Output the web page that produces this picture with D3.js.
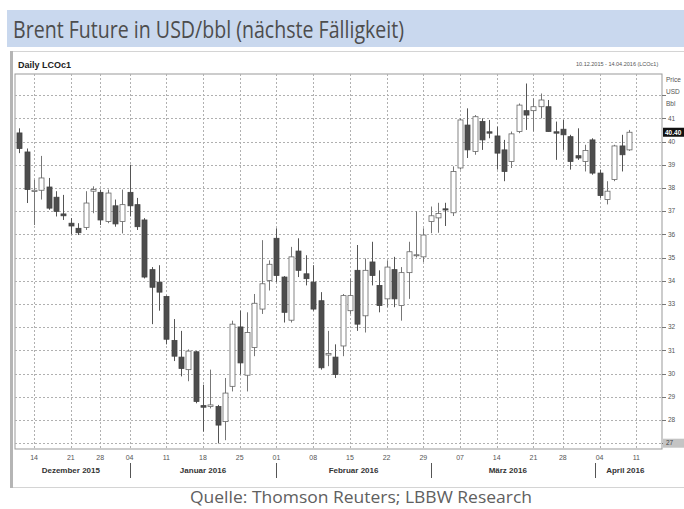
<!DOCTYPE html>
<html>
<head>
<meta charset="utf-8">
<script src="https://cdn.jsdelivr.net/npm/d3@7"></script>
<style>
  body { margin: 0; background: #fff; }
  svg { display: block; font-family: "Liberation Sans", Arial, sans-serif; }
</style>
</head>
<body>
<svg id="chart" width="684" height="509"></svg>
<script>
// Daily candles for LCOc1, one entry per trading day (10.12.2015 - 08.04.2016)
const opens = [
  40.37, 39.55, 37.85, 37.9, 38.04, 37.6, 36.88, 36.48, 36.26, 36.3,
  37.86, 37.81, 36.55, 37.23, 36.55, 37.81, 37.28, 36.62, 34.48, 33.94,
  33.32, 31.43, 30.71, 30.17, 30.94, 28.62, 28.58, 28.58, 27.93, 29.45,
  32.01, 29.93, 31.12, 32.78, 34.01, 35.83, 34.16, 32.3, 35.28, 34.3,
  33.94, 33.14, 30.8, 30.71, 31.19, 32.71, 34.45, 32.49, 34.81, 33.8,
  33.22, 34.48, 32.93, 34.35, 35.08, 35.03, 36.55, 36.71, 37.1, 36.93,
  38.86, 40.71, 39.57, 40.86, 40.42, 40.24, 39.64, 39.14, 40.43, 41.33,
  41.33, 41.5, 41.5, 40.42, 40.53, 40.21, 39.39, 39.14, 40.07, 38.64,
  37.5, 38.36, 39.81, 39.64
];
const highs = [
  40.57, 39.7, 38.35, 39.38, 38.43, 37.86, 37.7, 36.7, 36.48, 37.86,
  38.07, 37.93, 37.93, 37.5, 37.93, 39.0, 37.57, 36.7, 34.59, 34.67,
  33.36, 32.35, 31.84, 31.04, 30.97, 29.52, 30.17, 28.65, 29.81, 32.28,
  32.71, 32.64, 33.43, 35.75, 34.88, 36.26, 34.2, 35.46, 35.83, 35.1,
  34.67, 33.51, 31.84, 31.26, 33.43, 34.09, 35.54, 34.96, 35.68, 34.45,
  34.88, 35.03, 34.59, 35.68, 37.0, 36.26, 37.2, 37.36, 37.36, 38.93,
  41.0, 41.43, 41.14, 41.0, 40.93, 40.64, 40.07, 40.43, 41.64, 42.5,
  41.86, 42.07, 41.79, 40.86, 40.93, 40.29, 40.57, 39.86, 40.14, 38.79,
  38.29, 39.86, 40.29, 40.5
];
const lows = [
  39.5, 37.35, 36.4, 37.5, 37.06, 36.77, 36.62, 36.0, 35.97, 36.19,
  36.91, 36.4, 36.48, 36.33, 36.04, 36.77, 36.19, 34.1, 32.13, 32.71,
  31.26, 30.54, 29.88, 29.67, 28.72, 27.5, 28.5, 26.99, 27.13, 29.23,
  29.96, 29.23, 30.75, 32.57, 33.58, 33.94, 32.2, 32.2, 34.16, 33.8,
  32.71, 30.17, 30.32, 29.81, 30.75, 32.57, 31.84, 31.77, 33.8, 32.64,
  32.86, 32.86, 32.28, 33.22, 35.0, 34.81, 36.05, 36.07, 36.36, 36.79,
  38.79, 39.29, 39.43, 39.64, 40.14, 38.79, 38.29, 38.86, 40.36, 40.5,
  40.43, 41.0, 40.43, 39.21, 39.64, 38.79, 39.21, 38.71, 38.57, 37.57,
  37.29, 38.29, 38.71, 39.6
];
const closes = [
  39.7, 37.93, 37.9, 38.43, 37.13, 36.99, 36.8, 36.36, 36.07, 37.35,
  37.93, 36.62, 37.78, 36.45, 37.28, 37.23, 36.33, 34.16, 33.72, 33.51,
  31.48, 30.75, 30.22, 30.97, 28.8, 28.55, 28.65, 27.78, 29.16, 32.13,
  30.46, 31.77, 33.03, 33.87, 34.71, 34.23, 32.64, 35.03, 34.45, 34.09,
  32.78, 30.25, 30.87, 29.96, 33.36, 33.36, 32.13, 34.45, 34.23, 32.93,
  34.59, 33.22, 34.35, 35.25, 35.12, 35.97, 36.8, 36.9, 37.05, 38.71,
  40.93, 39.64, 41.07, 40.07, 40.36, 39.5, 38.71, 40.33, 41.57, 41.14,
  41.5, 41.79, 40.43, 40.36, 40.29, 39.14, 39.29, 39.61, 38.64, 37.67,
  37.86, 39.81, 39.43, 40.4
];

// Day labels on the time axis and the trading-day index they sit on
const dayLabels = ["14", "21", "28", "04", "11", "18", "25", "01", "08", "15", "22", "29", "07", "14", "21", "28", "04", "11"];
const dayIndex = [2, 7, 11, 15, 20, 25, 30, 35, 40, 45, 50, 55, 60, 65, 70, 74, 79, 84];

// Month labels, their centre index and the index where each new month starts
const monthLabels = ["Dezember 2015", "Januar 2016", "Februar 2016", "März 2016", "April 2016"];
const monthCenter = [7, 25, 45.5, 66.5, 82.5];
const monthStart = [15, 35, 56, 78.4];

// Price ticks on the right axis
const priceTicks = [28, 29, 30, 31, 32, 33, 34, 35, 36, 37, 38, 39, 40, 41];
const gridTicks = [27, 28, 29, 30, 31, 32, 33, 34, 35, 36, 37, 38, 39, 40, 41, 42];

const svg = d3.select("#chart");

// Plot area
const plotLeft = 15, plotRight = 662, plotTop = 74, plotBottom = 449;

const x = d3.scaleLinear().domain([-0.6, 87.5]).range([plotLeft, plotRight]);
const y = d3.scaleLinear().domain([26.75, 42.91]).range([plotBottom, plotTop]);

// Title bar
svg.append("rect")
  .attr("x", 7).attr("y", 10).attr("width", 677).attr("height", 37)
  .attr("fill", "#c9d8ee");
svg.append("text")
  .attr("x", 13).attr("y", 38)
  .attr("font-family", "'Open Sans', 'DejaVu Sans', sans-serif")
  .attr("font-size", 23)
  .attr("fill", "#4d4d4d")
  .attr("textLength", 391)
  .attr("lengthAdjust", "spacingAndGlyphs")
  .text("Brent Future in USD/bbl (nächste Fälligkeit)");

// Chart panel with the thick grey line on the left
svg.append("rect")
  .attr("x", 10.5).attr("y", 51.5).attr("width", 680).attr("height", 436)
  .attr("fill", "#fff").attr("stroke", "#d4d4d4");
svg.append("rect")
  .attr("x", 10).attr("y", 51).attr("width", 3).attr("height", 437)
  .attr("fill", "#b5b5b5");

svg.append("text")
  .attr("x", 18).attr("y", 68)
  .attr("font-size", 9).attr("font-weight", "bold").attr("fill", "#222")
  .text("Daily LCOc1");
svg.append("text")
  .attr("x", 576).attr("y", 66)
  .attr("font-size", 5.5).attr("fill", "#555")
  .text("10.12.2015 - 14.04.2016 (LCOc1)");

// Plot background and frame
svg.append("rect")
  .attr("x", plotLeft).attr("y", plotTop)
  .attr("width", plotRight - plotLeft).attr("height", plotBottom - plotTop)
  .attr("fill", "#fff").attr("stroke", "#999");

// Dotted grid lines
const grid = svg.append("g").attr("stroke", "#b0b0b0").attr("stroke-dasharray", "2,2");
grid.selectAll("line.h")
  .data(gridTicks)
  .join("line")
  .attr("class", "h")
  .attr("x1", plotLeft).attr("x2", plotRight)
  .attr("y1", d => Math.round(y(d)) + 0.5).attr("y2", d => Math.round(y(d)) + 0.5);
grid.selectAll("line.v")
  .data(dayIndex)
  .join("line")
  .attr("class", "v")
  .attr("y1", plotTop).attr("y2", plotBottom)
  .attr("x1", d => Math.round(x(d)) + 0.5).attr("x2", d => Math.round(x(d)) + 0.5);

// Candles
const candles = svg.append("g");
const bodyWidth = 5;
opens.forEach((o, i) => {
  const c = closes[i];
  const up = c >= o;
  const cx = Math.round(x(i)) + 0.5;
  candles.append("line")
    .attr("x1", cx).attr("x2", cx)
    .attr("y1", y(highs[i])).attr("y2", y(lows[i]))
    .attr("stroke", up ? "#777" : "#555");
  const y1 = y(Math.max(o, c));
  const h = Math.max(1, y(Math.min(o, c)) - y1);
  candles.append("rect")
    .attr("x", cx - bodyWidth / 2).attr("y", y1)
    .attr("width", bodyWidth).attr("height", h)
    .attr("fill", up ? "#fff" : "#4d4d4d")
    .attr("stroke", up ? "#666" : "#444")
    .attr("stroke-width", 0.8);
});

// Right price axis
const yAxis = svg.append("g").attr("font-size", 6.5).attr("fill", "#555");
yAxis.selectAll("line")
  .data(gridTicks)
  .join("line")
  .attr("x1", plotRight).attr("x2", plotRight + 4)
  .attr("y1", d => Math.round(y(d)) + 0.5).attr("y2", d => Math.round(y(d)) + 0.5)
  .attr("stroke", "#777");
yAxis.selectAll("text")
  .data(priceTicks)
  .join("text")
  .attr("x", plotRight + 6).attr("y", d => y(d) + 2.3)
  .text(d => d);

["Price", "USD", "Bbl"].forEach((t, i) => {
  svg.append("text")
    .attr("x", 666).attr("y", 82 + i * 12)
    .attr("font-size", 6.5).attr("fill", "#555")
    .text(t);
});

// Last price marker
const last = closes[closes.length - 1];
svg.append("rect")
  .attr("x", 663).attr("y", y(last) - 4.5).attr("width", 21).attr("height", 9)
  .attr("fill", "#111");
svg.append("text")
  .attr("x", 665).attr("y", y(last) + 2.3)
  .attr("font-size", 6.5).attr("font-weight", "bold").attr("fill", "#fff")
  .text(last.toFixed(2));

// Low marker at the bottom of the scale
svg.append("rect")
  .attr("x", 663).attr("y", y(27) - 4.5).attr("width", 21).attr("height", 9)
  .attr("fill", "#c4c4c4");
svg.append("text")
  .attr("x", 666).attr("y", y(27) + 2.3)
  .attr("font-size", 6.5).attr("fill", "#444")
  .text("27");

// Time axis: days, month separators and month names
svg.append("g")
  .selectAll("text")
  .data(dayLabels)
  .join("text")
  .attr("x", (d, i) => x(dayIndex[i]))
  .attr("y", 460)
  .attr("text-anchor", "middle")
  .attr("font-size", 7).attr("fill", "#555")
  .text(d => d);

svg.append("g")
  .selectAll("line")
  .data(monthStart)
  .join("line")
  .attr("x1", d => Math.round(x(d)) + 0.5).attr("x2", d => Math.round(x(d)) + 0.5)
  .attr("y1", 463).attr("y2", 478)
  .attr("stroke", "#555");

svg.append("g")
  .selectAll("text")
  .data(monthLabels)
  .join("text")
  .attr("x", (d, i) => x(monthCenter[i]))
  .attr("y", 473)
  .attr("text-anchor", "middle")
  .attr("font-size", 8).attr("font-weight", "bold").attr("fill", "#333")
  .text(d => d);

// Source line
svg.append("text")
  .attr("x", 361).attr("y", 503)
  .attr("text-anchor", "middle")
  .attr("font-family", "'Open Sans', 'DejaVu Sans', sans-serif")
  .attr("font-size", 16).attr("fill", "#606060")
  .attr("textLength", 342)
  .attr("lengthAdjust", "spacingAndGlyphs")
  .text("Quelle: Thomson Reuters; LBBW Research");
</script>
</body>
</html>
